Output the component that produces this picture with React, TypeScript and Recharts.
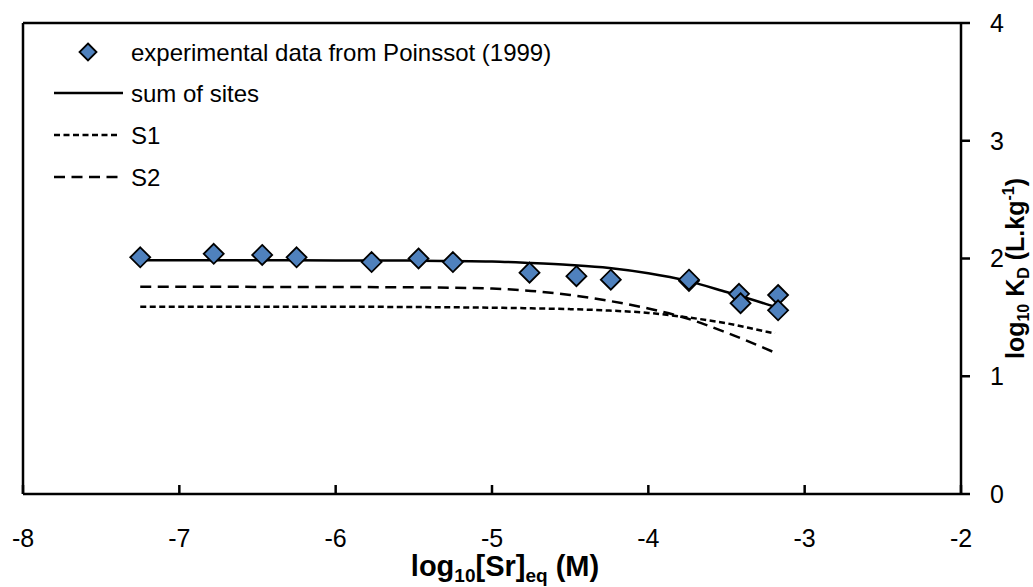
import React from 'react';
import { ComposedChart, Line, Scatter, XAxis, YAxis, ReferenceLine, Legend } from 'recharts';

const FONT = '"Liberation Sans", Arial, sans-serif';

const xTicks = [-8, -7, -6, -5, -4, -3, -2];
const yTicks = [0, 1, 2, 3, 4];

// experimental points (log10[Sr]eq, log10 Kd)
const expLogSr = [-7.25, -6.78, -6.47, -6.25, -5.77, -5.47, -5.25, -4.76, -4.46, -4.24, -3.74, -3.74, -3.42, -3.41, -3.17, -3.17];
const expLogKd = [2.01, 2.04, 2.03, 2.01, 1.97, 2.0, 1.97, 1.88, 1.85, 1.82, 1.81, 1.82, 1.7, 1.62, 1.69, 1.56];

// model curves
const curveX = [-7.25, -6.5, -6, -5.5, -5, -4.75, -4.5, -4.25, -4, -3.75, -3.5, -3.25, -3.19];
const sumOfSites = [1.985, 1.985, 1.984, 1.982, 1.975, 1.962, 1.945, 1.92, 1.875, 1.81, 1.715, 1.615, 1.59];
const siteS1 = [1.59, 1.59, 1.59, 1.588, 1.582, 1.577, 1.57, 1.558, 1.538, 1.5, 1.45, 1.38, 1.364];
const siteS2 = [1.76, 1.759, 1.758, 1.755, 1.745, 1.725, 1.69, 1.64, 1.575, 1.49, 1.37, 1.235, 1.2];

const legendLabels = ['experimental data from Poinssot (1999)', 'sum of sites', 'S1', 'S2'];

const expData = expLogSr.map((x, i) => ({ x, y: expLogKd[i] }));
const sumData = curveX.map((x, i) => ({ x, y: sumOfSites[i] }));
const s1Data = curveX.map((x, i) => ({ x, y: siteS1[i] }));
const s2Data = curveX.map((x, i) => ({ x, y: siteS2[i] }));

const BLUE = '#4F81BD';
const S1_DASH = '6 3.5';
const S2_DASH = '11 6.5';

const Diamond = (props: any) => {
  const { cx, cy } = props;
  if (cx == null || cy == null) return null;
  const r = 10;
  return (
    <polygon
      points={`${cx},${cy - r} ${cx + r},${cy} ${cx},${cy + r} ${cx - r},${cy}`}
      fill={BLUE}
      stroke="#000"
      strokeWidth={1.8}
    />
  );
};

const XTick = (props: any) => {
  const { x, y, payload } = props;
  return (
    <g>
      <line x1={x} x2={x} y1={y} y2={y - 9} stroke="#000" strokeWidth={2.5} />
      <text x={x} y={y + 53} textAnchor="middle" fontSize={25} fontFamily={FONT} fill="#000">
        {payload.value}
      </text>
    </g>
  );
};

const XTitle = (props: any) => {
  const vb = props.viewBox || { x: 23, y: 494, width: 938, height: 93 };
  const cx = vb.x + vb.width / 2 + 13;
  const by = vb.y + 82;
  return (
    <text x={cx} y={by} textAnchor="middle" fontSize={29} fontWeight="bold" fontFamily={FONT} fill="#000">
      log
      <tspan fontSize={19} dy={6}>10</tspan>
      <tspan dy={-6}>[Sr]</tspan>
      <tspan fontSize={19} dy={6}>eq</tspan>
      <tspan dy={-6}> (M)</tspan>
    </text>
  );
};

const YTitle = (props: any) => {
  const vb = props.viewBox || { x: 961, y: 23, width: 72, height: 471 };
  const bx = vb.x + 63;
  const cy = vb.y + vb.height / 2 + 10;
  return (
    <text
      x={bx}
      y={cy}
      transform={`rotate(-90, ${bx}, ${cy})`}
      textAnchor="middle"
      fontSize={25}
      fontWeight="bold"
      fontFamily={FONT}
      fill="#000"
    >
      log
      <tspan fontSize={16} dy={5}>10</tspan>
      <tspan dy={-5}> K</tspan>
      <tspan fontSize={16} dy={5}>D</tspan>
      <tspan dy={-5}> (L.kg</tspan>
      <tspan fontSize={16} dy={-10}>-1</tspan>
      <tspan dy={10}>)</tspan>
    </text>
  );
};

const LegendBox = () => {
  const textX = 131;
  const rows = [52, 93, 135, 177];
  return (
    <svg width={620} height={200} style={{ display: 'block' }}>
      <polygon points="88,43.5 96.5,52 88,60.5 79.5,52" fill={BLUE} stroke="#000" strokeWidth={1.8} />
      <line x1={54} x2={123} y1={rows[1]} y2={rows[1]} stroke="#000" strokeWidth={2.5} />
      <line x1={54} x2={119} y1={rows[2]} y2={rows[2]} stroke="#000" strokeWidth={2.5} strokeDasharray={S1_DASH} />
      <line x1={54} x2={121} y1={rows[3]} y2={rows[3]} stroke="#000" strokeWidth={2.5} strokeDasharray={S2_DASH} />
      {legendLabels.map((label, i) => (
        <text key={label} x={textX} y={rows[i] + 8.5} fontSize={24} fontFamily={FONT} fill="#000">
          {label}
        </text>
      ))}
    </svg>
  );
};

export default function App() {
  return (
    <div style={{ position: 'absolute', left: 0, top: 0, width: 1033, height: 587, background: '#fff' }}>
      <ComposedChart width={1033} height={587} margin={{ top: 23, left: 23, right: 0, bottom: 0 }}>
        <XAxis
          type="number"
          dataKey="x"
          domain={[-8, -2]}
          ticks={xTicks}
          interval={0}
          height={93}
          tickSize={0}
          tickMargin={0}
          tickLine={false}
          axisLine={{ stroke: '#000', strokeWidth: 2.5 }}
          tick={<XTick />}
          label={{ content: (p: any) => <XTitle {...p} /> }}
          allowDataOverflow
        />
        <YAxis
          type="number"
          orientation="right"
          domain={[0, 4]}
          ticks={yTicks}
          interval={0}
          width={72}
          tickSize={9}
          tickMargin={20}
          tickLine={{ stroke: '#000', strokeWidth: 2.5 }}
          axisLine={{ stroke: '#000', strokeWidth: 2.5 }}
          tick={{ fontSize: 25, fontFamily: FONT, fill: '#000' }}
          label={{ content: (p: any) => <YTitle {...p} /> }}
          allowDataOverflow
        />
        <ReferenceLine y={4} stroke="#000" strokeWidth={2.5} />
        <ReferenceLine x={-8} stroke="#000" strokeWidth={2.5} />
        <Legend
          layout="horizontal"
          verticalAlign="middle"
          align="center"
          wrapperStyle={{ left: 0, top: 0, width: 620, height: 200 }}
          content={() => <LegendBox />}
        />
        <Line data={s1Data} dataKey="y" type="monotone" stroke="#000" strokeWidth={2.5} strokeDasharray={S1_DASH} dot={false} activeDot={false} isAnimationActive={false} />
        <Line data={s2Data} dataKey="y" type="monotone" stroke="#000" strokeWidth={2.5} strokeDasharray={S2_DASH} dot={false} activeDot={false} isAnimationActive={false} />
        <Line data={sumData} dataKey="y" type="monotone" stroke="#000" strokeWidth={2.5} dot={false} activeDot={false} isAnimationActive={false} />
        <Scatter data={expData} dataKey="y" shape={<Diamond />} isAnimationActive={false} />
      </ComposedChart>
    </div>
  );
}
